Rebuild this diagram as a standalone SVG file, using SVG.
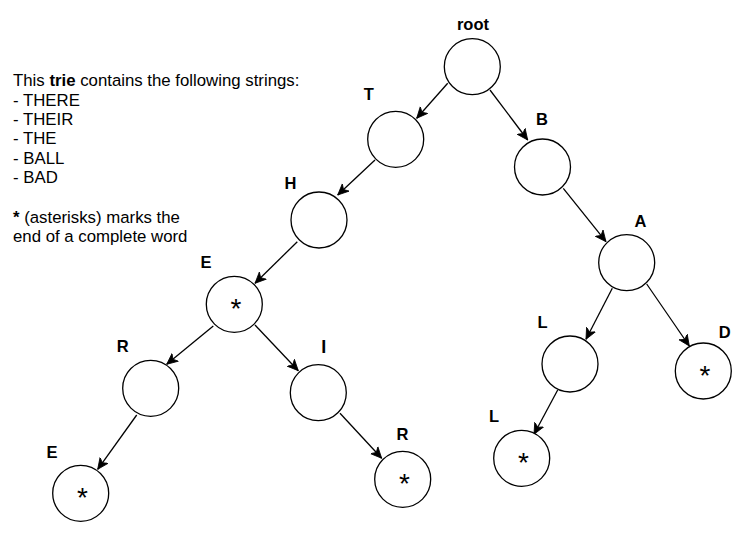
<svg xmlns="http://www.w3.org/2000/svg" width="750" height="533" viewBox="0 0 750 533">
<style>
.node{fill:#fff;stroke:#000;stroke-width:1.3}
.lbl{font-family:"Liberation Sans",Arial,sans-serif;font-weight:bold;font-size:16.5px;text-anchor:middle;fill:#000}
.star{font-family:"Liberation Sans",Arial,sans-serif;font-size:28px;text-anchor:middle;fill:#000}
.edge{stroke:#000;stroke-width:1.3;fill:none;marker-end:url(#arr)}
.txt{font-family:"Liberation Sans",Arial,sans-serif;font-size:16.8px;fill:#000}
</style>
<defs>
<marker id="arr" markerUnits="userSpaceOnUse" markerWidth="14" markerHeight="12" refX="11" refY="5" orient="auto" viewBox="0 0 14 10">
<path d="M0,0 L11,5 L0,10 L3,5 Z" fill="#000" stroke="#000" stroke-width="0.8"/>
</marker>
</defs>
<rect width="750" height="533" fill="#fff"/>
<g id="legend">
<text class="txt" x="13" y="86">This <tspan font-weight="bold">trie</tspan> contains the following strings:</text>
<text class="txt" x="13" y="105.5">- THERE</text>
<text class="txt" x="13" y="125">- THEIR</text>
<text class="txt" x="13" y="144.3">- THE</text>
<text class="txt" x="13" y="163.6">- BALL</text>
<text class="txt" x="13" y="183">- BAD</text>
<text class="txt" x="13" y="222.6"><tspan font-weight="bold">*</tspan> (asterisks) marks the</text>
<text class="txt" x="13" y="241.8">end of a complete word</text>
</g>
<g id="connectors">
<line class="edge" x1="447.7" y1="83.3" x2="416.7" y2="118.3"/>
<line class="edge" x1="490" y1="90" x2="527.7" y2="140"/>
<line class="edge" x1="375" y1="160" x2="337.7" y2="195"/>
<line class="edge" x1="297.3" y1="241.7" x2="255" y2="283.3"/>
<line class="edge" x1="213.3" y1="326" x2="166.7" y2="364.3"/>
<line class="edge" x1="255" y1="325" x2="298.3" y2="370.7"/>
<line class="edge" x1="136.7" y1="415" x2="97.7" y2="469.3"/>
<line class="edge" x1="340" y1="413.3" x2="381.7" y2="458.3"/>
<line class="edge" x1="563.3" y1="188.3" x2="606" y2="241.7"/>
<line class="edge" x1="612.3" y1="288.3" x2="586" y2="339.3"/>
<line class="edge" x1="646.7" y1="284" x2="689.3" y2="346"/>
<line class="edge" x1="557.7" y1="390" x2="534" y2="434.3"/>
</g>
<g id="n-root"><circle class="node" cx="472.3" cy="66.7" r="28"/><text class="lbl" x="473" y="30">root</text></g>
<g id="n-T"><circle class="node" cx="395.7" cy="139.3" r="28"/><text class="lbl" x="368.7" y="100">T</text></g>
<g id="n-B"><circle class="node" cx="542.5" cy="167" r="28"/><text class="lbl" x="542" y="125">B</text></g>
<g id="n-H"><circle class="node" cx="319" cy="220" r="28"/><text class="lbl" x="290.5" y="189">H</text></g>
<g id="n-A"><circle class="node" cx="626.7" cy="262.7" r="28"/><text class="lbl" x="640.5" y="226.7">A</text></g>
<g id="n-E"><circle class="node" cx="234.3" cy="304.3" r="28"/><text class="lbl" x="206" y="268.3">E</text><text class="star" x="236" y="318">*</text></g>
<g id="n-L"><circle class="node" cx="570" cy="364" r="28"/><text class="lbl" x="542.5" y="328.3">L</text></g>
<g id="n-D"><circle class="node" cx="703.3" cy="371" r="28"/><text class="lbl" x="724.7" y="338.3">D</text><text class="star" x="705" y="385">*</text></g>
<g id="n-R"><circle class="node" cx="150.7" cy="388.3" r="28"/><text class="lbl" x="122.8" y="352.3">R</text></g>
<g id="n-I"><circle class="node" cx="318.3" cy="392.7" r="28"/><text class="lbl" x="323.7" y="353.3" style="font-size:18px">I</text></g>
<g id="n-L2"><circle class="node" cx="521.7" cy="458.3" r="28"/><text class="lbl" x="494" y="422.3">L</text><text class="star" x="523.4" y="472">*</text></g>
<g id="n-E2"><circle class="node" cx="80.7" cy="493.3" r="28"/><text class="lbl" x="52" y="457.7">E</text><text class="star" x="82.4" y="507">*</text></g>
<g id="n-R2"><circle class="node" cx="402.7" cy="479.3" r="28"/><text class="lbl" x="402.5" y="440">R</text><text class="star" x="404.4" y="493">*</text></g>
</svg>
